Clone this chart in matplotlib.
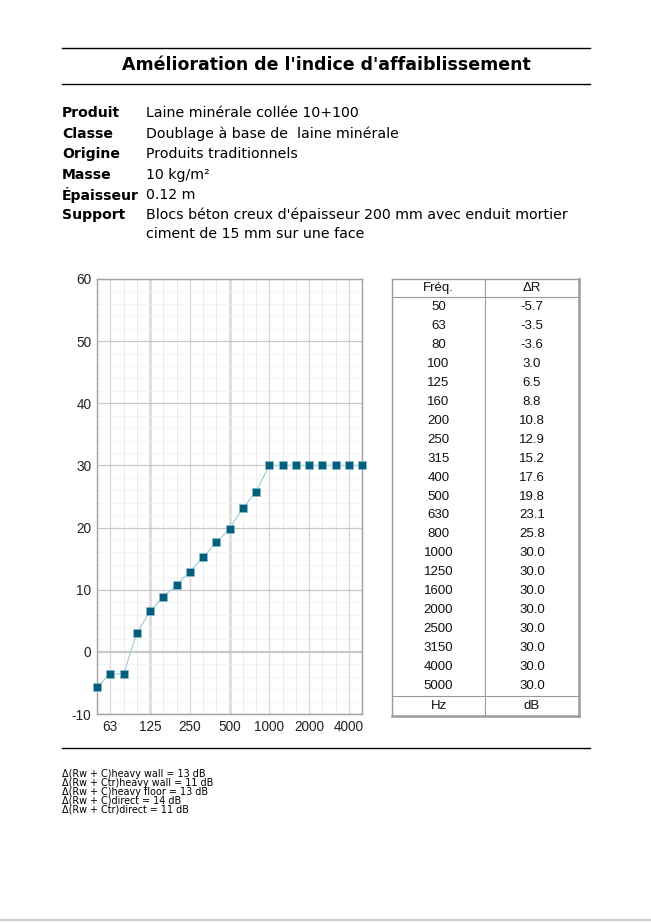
import numpy as np
import matplotlib
matplotlib.use("Agg")
import matplotlib.pyplot as plt
from matplotlib.lines import Line2D

plt.rcParams["axes.unicode_minus"] = False

# Données
freqs = [50, 63, 80, 100, 125, 160, 200, 250, 315, 400, 500, 630, 800,
         1000, 1250, 1600, 2000, 2500, 3150, 4000, 5000]
delta_r = [-5.7, -3.5, -3.6, 3.0, 6.5, 8.8, 10.8, 12.9, 15.2, 17.6, 19.8,
           23.1, 25.8, 30.0, 30.0, 30.0, 30.0, 30.0, 30.0, 30.0, 30.0]
tick_freqs = [63, 125, 250, 500, 1000, 2000, 4000]

titre = "Amélioration de l'indice d'affaiblissement"
info_labels = ["Produit", "Classe", "Origine", "Masse", "Épaisseur", "Support"]
info_values = ["Laine minérale collée 10+100",
               "Doublage à base de  laine minérale",
               "Produits traditionnels",
               "10 kg/m²",
               "0.12 m",
               "Blocs béton creux d'épaisseur 200 mm avec enduit mortier",
               ]
support_suite = "ciment de 15 mm sur une face"
notes = ["Δ(Rw + C)heavy wall = 13 dB",
         "Δ(Rw + Ctr)heavy wall = 11 dB",
         "Δ(Rw + C)heavy floor = 13 dB",
         "Δ(Rw + C)direct = 14 dB",
         "Δ(Rw + Ctr)direct = 11 dB"]

W, H = 651, 923
fig = plt.figure(figsize=(W / 100, H / 100), dpi=100)


def fx(x):
    return x / W


def fy(y):
    return 1 - y / H


def hline(y, x0=62, x1=590, color="black", lw=1.0):
    fig.add_artist(Line2D([fx(x0), fx(x1)], [fy(y), fy(y)], color=color, lw=lw))


# En-tête
hline(48)
hline(84)
fig.text(fx(326), fy(65), titre, ha="center", va="center",
         fontsize=12.5, fontweight="bold", family="DejaVu Sans")

ys = [113, 134, 154, 175, 195, 215]
for lab, val, y in zip(info_labels, info_values, ys):
    fig.text(fx(62), fy(y), lab, ha="left", va="center", fontsize=10.1,
             fontweight="bold", family="DejaVu Sans")
    fig.text(fx(146), fy(y), val, ha="left", va="center", fontsize=10.2,
             family="DejaVu Sans")
fig.text(fx(146), fy(234), support_suite, ha="left", va="center",
         fontsize=10.2, family="DejaVu Sans")

# Graphique
x0, x1, y0, y1 = 97, 362, 279, 714
ax = fig.add_axes([fx(x0), fy(y1), fx(x1 - x0), (y1 - y0) / H])
idx = np.arange(len(freqs))
ax.set_xlim(0, len(freqs) - 1)
ax.set_ylim(-10, 60)

for i in idx:
    f = freqs[i]
    if f in (125, 500):
        ax.axvline(i, color="#dcdcdc", lw=2.0, zorder=0)
    elif f in tick_freqs or f == 5000:
        ax.axvline(i, color="#d6d6d6", lw=0.9, zorder=0)
    else:
        ax.axvline(i, color="#ececec", lw=0.7, zorder=0)
for v in np.arange(-10, 61, 2):
    if v % 10 == 0:
        ax.axhline(v, color="#c8c8c8", lw=1.6 if v == 0 else 0.9, zorder=0)
    else:
        ax.axhline(v, color="#eeeeee", lw=0.6, ls=(0, (2, 1)), zorder=0)

ax.plot(idx, delta_r, color="#a9d0de", lw=0.9, zorder=2)
ax.plot(idx, delta_r, ls="none", marker="s", ms=5.3, color="#015f7c",
        mec="#8bbccd", mew=0.5, zorder=3, clip_on=False)

ax.set_yticks(np.arange(-10, 61, 10))
ax.set_xticks([freqs.index(f) for f in tick_freqs])
ax.set_xticklabels([str(f) for f in tick_freqs])
ax.tick_params(length=0, labelsize=9.8, pad=4, colors="#222222")
for lab in ax.get_xticklabels() + ax.get_yticklabels():
    lab.set_family("Liberation Sans")
for s in ax.spines.values():
    s.set_color("#a0a0a0")
    s.set_linewidth(1.0)

# Tableau
tx0, tx1, ty0, ty1 = 392, 579, 279, 716
tax = fig.add_axes([fx(tx0), fy(ty1), fx(tx1 - tx0), (ty1 - ty0) / H])
tax.set_xlim(0, tx1 - tx0)
tax.set_ylim(ty1 - ty0, 0)
tax.set_xticks([])
tax.set_yticks([])
for s in tax.spines.values():
    s.set_color("#9a9a9a")
    s.set_linewidth(1.0)
tax.spines["right"].set_linewidth(1.8)
tax.spines["bottom"].set_linewidth(1.8)
colx = 485 - tx0
tax.axvline(colx, color="#9a9a9a", lw=0.8)
tax.axhline(297 - ty0, color="#9a9a9a", lw=0.8)
tax.axhline(696 - ty0, color="#9a9a9a", lw=0.8)
c1 = colx / 2
c2 = colx + (tx1 - tx0 - colx) / 2
kw = dict(ha="center", va="center", fontsize=9.5, family="Liberation Sans", color="#111111")
tax.text(c1, 288 - ty0, "Fréq.", **kw)
tax.text(c2, 288 - ty0, "ΔR", **kw)
for i, (f, v) in enumerate(zip(freqs, delta_r)):
    yy = 307 + 18.95 * i - ty0
    tax.text(c1, yy, str(f), **kw)
    tax.text(c2, yy, f"{v:.1f}", **kw)
tax.text(c1, 706 - ty0, "Hz", **kw)
tax.text(c2, 706 - ty0, "dB", **kw)

# Notes
hline(748)
for i, n in enumerate(notes):
    fig.text(fx(62), fy(774 + 8.9 * i), n, ha="left", va="center",
             fontsize=6.9, family="DejaVu Sans")

hline(920, 0, 651, color="#cccccc", lw=1.5)

fig.savefig("out.png", dpi=100)
